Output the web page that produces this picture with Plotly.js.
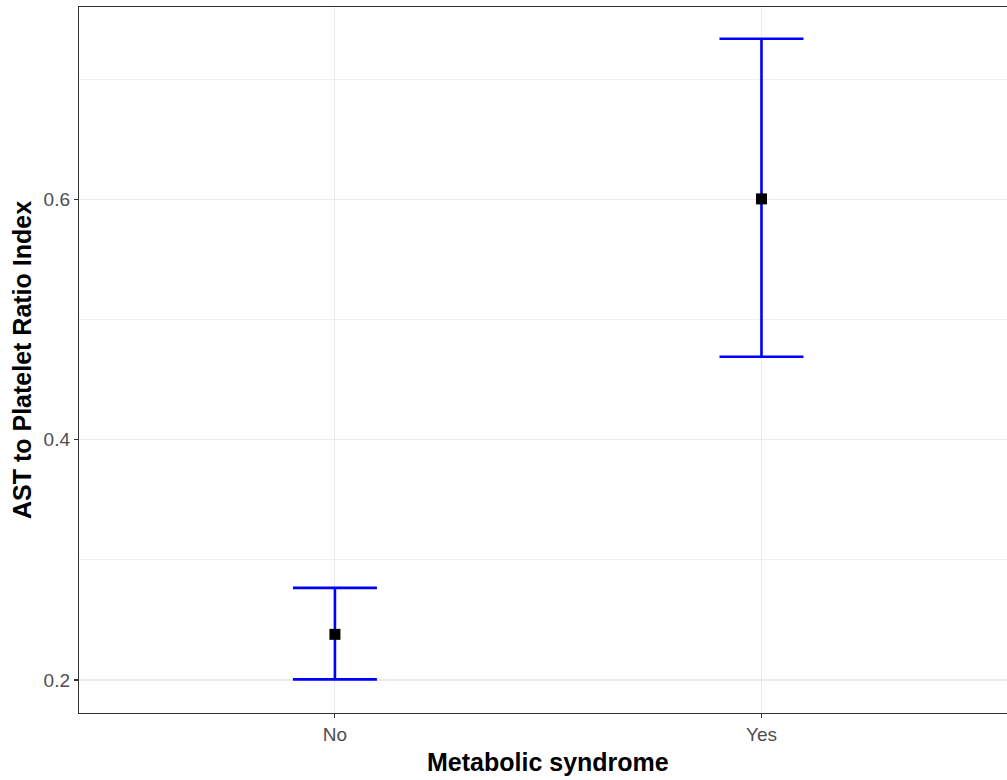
<!DOCTYPE html>
<html><head><meta charset="utf-8">
<script src="https://cdn.plot.ly/plotly-3.0.1.min.js"></script>
<style>html,body{margin:0;padding:0;background:#fff;}#chart{width:1007px;height:780px;}</style>
</head><body><div id="chart"></div>
<script>
var categories = ["No", "Yes"];
var means = [0.238, 0.6006];
var lowers = [0.2005, 0.4692];
var uppers = [0.2767, 0.734];
var yTickVals = [0.2, 0.4, 0.6];
var yTickText = ["0.2", "0.4", "0.6"];
var yMinorVals = [0.3, 0.5, 0.7];
var xTitle = "Metabolic syndrome";
var yTitle = "AST to Platelet Ratio Index";

var xIdx = categories.map(function(c, i){ return i; });
var trace = {
  type: "scatter", mode: "markers",
  x: xIdx, y: means,
  marker: {symbol: "square", size: 11, color: "#000000"},
  error_y: {
    type: "data", symmetric: false,
    array: uppers.map(function(u, i){ return u - means[i]; }),
    arrayminus: lowers.map(function(l, i){ return means[i] - l; }),
    color: "#0000ff", thickness: 2.6, width: 42
  },
  showlegend: false, hoverinfo: "x+y"
};

var layout = {
  width: 1007, height: 780,
  margin: {l: 79, r: 0, t: 7, b: 67, pad: 0},
  paper_bgcolor: "#ffffff", plot_bgcolor: "#ffffff",
  font: {family: "Liberation Sans, Arial, sans-serif", color: "#4d4d4d"},
  xaxis: {
    range: [-0.6, 1.5756], tickvals: xIdx, ticktext: categories,
    showgrid: true, gridcolor: "#ebebeb", gridwidth: 1.1,
    zeroline: false,
    showline: true, mirror: true, linecolor: "#333333", linewidth: 1.2,
    ticks: "outside", ticklen: 4, tickcolor: "#333333", tickwidth: 1.1,
    tickfont: {size: 19, color: "#4d4d4d"}
  },
  yaxis: {
    range: [0.1725, 0.7604], tickvals: yTickVals, ticktext: yTickText,
    showgrid: true, gridcolor: "#ebebeb", gridwidth: 1.1,
    minor: {tickvals: yMinorVals, showgrid: true, gridcolor: "#ebebeb", gridwidth: 0.8, ticks: ""},
    zeroline: false,
    showline: true, mirror: false, linecolor: "#333333", linewidth: 1.2,
    ticks: "outside", ticklen: 4, tickcolor: "#333333", tickwidth: 1.1,
    tickfont: {size: 19, color: "#4d4d4d"}
  },
  annotations: [
    {text: "<b>" + xTitle + "</b>", xref: "paper", yref: "paper", x: 0.5054, y: -0.0694,
     xanchor: "center", yanchor: "middle", showarrow: false,
     font: {size: 25, color: "#000000", family: "Liberation Sans, Arial, sans-serif"}},
    {text: "<b>" + yTitle + "</b>", xref: "paper", yref: "paper", x: -0.0614, y: 0.5,
     xanchor: "center", yanchor: "middle", textangle: -90, showarrow: false,
     font: {size: 25, color: "#000000", family: "Liberation Sans, Arial, sans-serif"}}
  ]
};
Plotly.newPlot("chart", [trace], layout, {displayModeBar: false, staticPlot: true});
</script></body></html>
